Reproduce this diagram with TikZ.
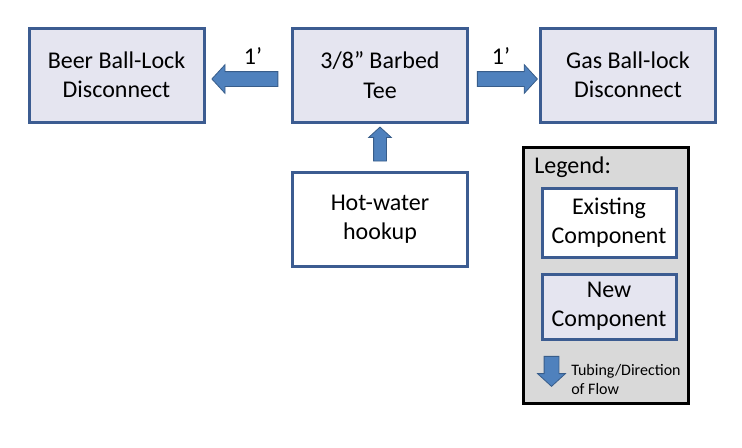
\documentclass[tikz,border=0pt]{standalone}
\usepackage{fontspec}
\setmainfont{Carlito}
\usetikzlibrary{shapes.arrows}
\definecolor{boxblue}{RGB}{60,92,145}
\definecolor{newfill}{RGB}{229,229,240}
\definecolor{flowblue}{RGB}{79,129,189}
\definecolor{flowdark}{RGB}{56,93,138}
\definecolor{legendgray}{RGB}{217,217,217}

\begin{document}
\begin{tikzpicture}[x=0.75pt, y=-0.75pt,
    part/.style={draw=boxblue, line width=2.25pt, align=center, inner sep=0pt,
        font=\fontsize{18}{22}\selectfont},
    newpart/.style={part, fill=newfill},
    oldpart/.style={part, fill=white},
    pipe/.style={single arrow, draw=flowdark, fill=flowblue, line width=0.6pt,
        inner sep=5.25pt, minimum width=0pt, single arrow head extend=5.25pt,
        single arrow tip angle=95},
    lengthlabel/.style={font=\fontsize{18}{22}\selectfont}]
    \useasboundingbox (0,0) rectangle (742,447);

    % components
    \node[newpart, minimum width=131.25pt, minimum height=70.5pt]
        (beer) at (116.5,75) {Beer Ball-Lock\\Disconnect};
    \node[newpart, minimum width=131.25pt, minimum height=70.5pt]
        (tee) at (380,75) {3/8” Barbed\\Tee};
    \node[newpart, minimum width=131.25pt, minimum height=70.5pt]
        (gas) at (628,75) {Gas Ball-lock\\Disconnect};
    \node[oldpart, minimum width=131.25pt, minimum height=70.5pt]
        (hot) at (380,219) {Hot-water\\hookup};

    % tubing
    \path ([yshift=-3pt]tee.west) -- ([yshift=-3pt]beer.east)
        node[pipe, midway, shape border rotate=180, minimum height=49.5pt] (tubeBeer) {};
    \path ([yshift=-3pt]tee.east) -- ([yshift=-3pt]gas.west)
        node[pipe, midway, minimum height=45pt] (tubeGas) {};
    \path (hot.north) -- (tee.south)
        node[pipe, midway, shape border rotate=90, minimum height=25.5pt,
             inner sep=4.5pt, single arrow head extend=3.75pt] (tubeHot) {};
    \node[lengthlabel] (lenBeer) at (253,56) {1’};
    \node[lengthlabel] (lenGas) at (501,56) {1’};

    % legend
    \node[draw=black, fill=legendgray, line width=2.25pt, minimum width=123.75pt,
          minimum height=192pt, inner sep=0pt] (legend) at (606,275.5) {};
    \node[anchor=west, inner sep=0pt, font=\fontsize{18}{22}\selectfont]
        (legendTitle) at (534,167) {Legend:};
    \node[oldpart, minimum width=100.5pt, minimum height=51.75pt]
        (legendOld) at (609,222.5) {Existing\\Component};
    \node[newpart, minimum width=100.5pt, minimum height=48.75pt]
        (legendNew) at (609,306.5) {New\\Component};
    \node[pipe, shape border rotate=270, minimum height=22.5pt,
          single arrow head extend=4.9pt] (legendTube) at (551.5,368) {};
    \node[anchor=west, align=left, inner sep=0pt, font=\fontsize{12}{14.25}\selectfont]
        (legendTubeText) at (571,379) {Tubing/Direction\\of Flow};
\end{tikzpicture}
\end{document}
